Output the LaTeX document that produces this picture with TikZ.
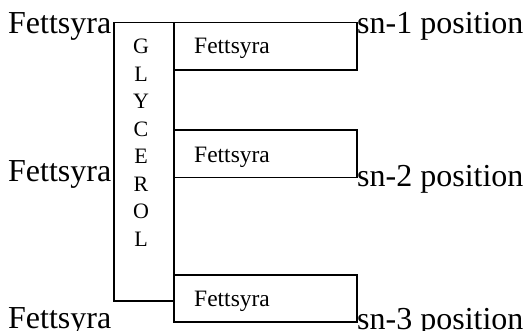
\documentclass[tikz,border=0pt]{standalone}
\usepackage{fontspec}
\setmainfont{Liberation Serif}
\begin{document}
\begin{tikzpicture}[x=1pt,y=-1pt,
  frame/.style={draw=black,line width=1.8pt,inner sep=0pt,anchor=north west},
  bigtxt/.style={font=\fontsize{32}{38}\selectfont,inner sep=0pt,anchor=base west},
  boxtxt/.style={font=\fontsize{23.5}{28}\selectfont,inner sep=0pt,anchor=base west},
  gltxt/.style={font=\fontsize{22}{27}\selectfont,inner sep=0pt,anchor=base}]
\useasboundingbox (0,0) rectangle (525,331);

% glycerol backbone
\node[frame,minimum width=60pt,minimum height=278.3pt] (gly) at (112.7,21.7) {};
\foreach \l [count=\i] in {G,L,Y,C,E,R,O,L}
  \node[gltxt] (g\i) at (141,{54+27.5*(\i-1)}) {\l};

% three fatty acid chains
\node[frame,minimum width=183pt,minimum height=47.3pt] (fa1) at (172.7,21.7) {};
\node[frame,minimum width=183pt,minimum height=47.3pt] (fa2) at (172.7,129.3) {};
\node[frame,minimum width=183pt,minimum height=47pt] (fa3) at (172.7,274) {};
\node[boxtxt] (t1) at (194,54) {Fettsyra};
\node[boxtxt] (t2) at (194,162.3) {Fettsyra};
\node[boxtxt] (t3) at (194,306) {Fettsyra};

% labels on the left
\node[bigtxt] (l1) at (8,33.5) {Fettsyra};
\node[bigtxt] (l2) at (8,182) {Fettsyra};
\node[bigtxt] (l3) at (8,328.5) {Fettsyra};

% positions on the right
\node[bigtxt] (r1) at (357,34) {sn-1 position};
\node[bigtxt] (r2) at (357,187) {sn-2 position};
\node[bigtxt] (r3) at (357,330) {sn-3 position};
\end{tikzpicture}
\end{document}
